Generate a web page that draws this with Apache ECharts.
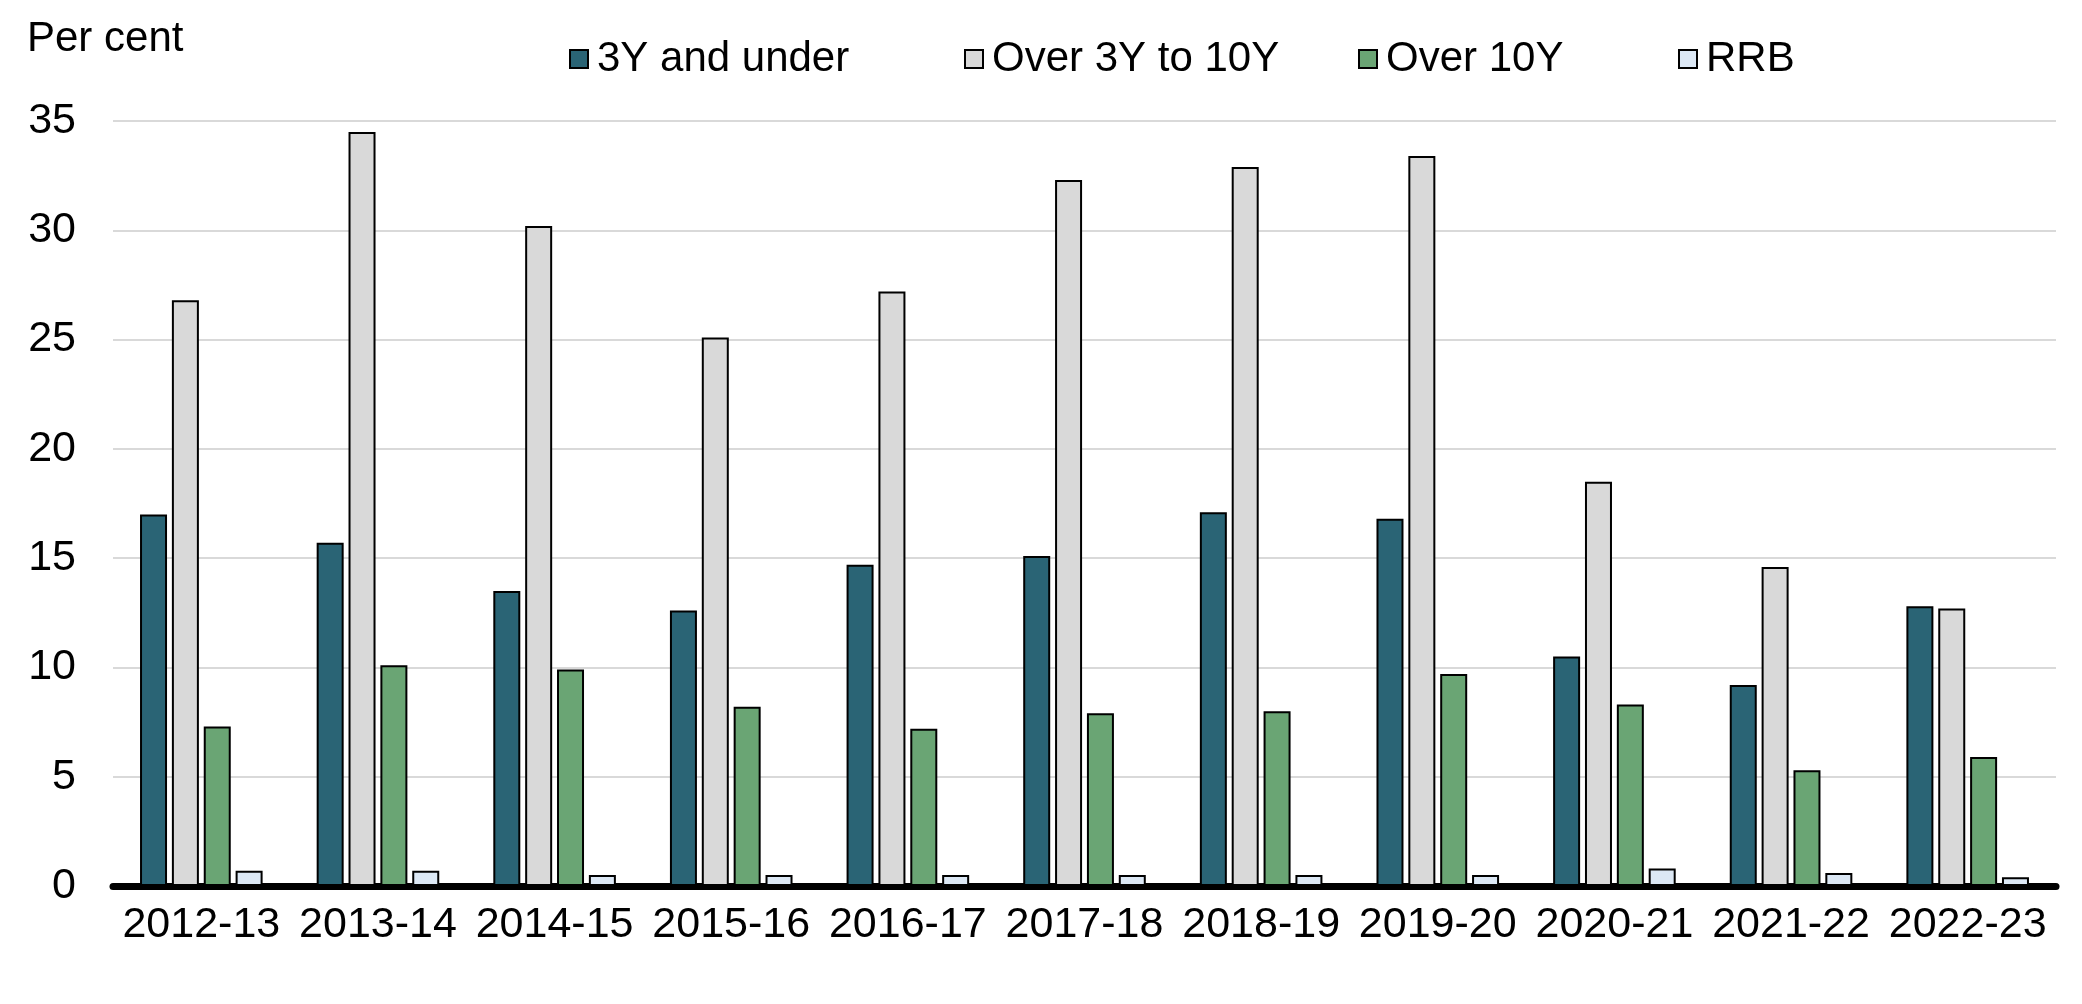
<!DOCTYPE html>
<html><head><meta charset="utf-8">
<script src="https://cdn.jsdelivr.net/npm/echarts@6/dist/echarts.min.js"></script>
<style>html,body{margin:0;padding:0;background:#fff}#c{width:2082px;height:1004px}</style>
</head><body><div id="c"></div>
<script>
const categories = ['2012-13','2013-14','2014-15','2015-16','2016-17','2017-18','2018-19','2019-20','2020-21','2021-22','2022-23'];
const seriesNames = ['3Y and under','Over 3Y to 10Y','Over 10Y','RRB'];
const under3Y = [17.0,15.7,13.5,12.6,14.7,15.1,17.1,16.8,10.5,9.2,12.8];
const over3To10Y = [26.8,34.5,30.2,25.1,27.2,32.3,32.9,33.4,18.5,14.6,12.7];
const over10Y = [7.3,10.1,9.9,8.2,7.2,7.9,8.0,9.7,8.3,5.3,5.9];
const rrb = [0.7,0.7,0.5,0.5,0.5,0.5,0.5,0.5,0.8,0.6,0.4];
const yTicks = [0,5,10,15,20,25,30,35];

const colors = ['#2a6475','#d9d9d9','#6aa574','#dce8f5'];
const dataArr = [under3Y, over3To10Y, over10Y, rrb];
const font = 'Liberation Sans, Arial, sans-serif';
const legendLefts = [564, 959, 1353, 1673];

const chart = echarts.init(document.getElementById('c'));
chart.setOption({
  animation: false,
  backgroundColor: '#fff',
  textStyle: {fontFamily: font},
  graphic: [{type:'text', left: 27, top: 18, style:{text:'Per cent', font:'42px '+font, fill:'#000'}}],
  legend: seriesNames.map((n,i)=>({
    data:[n], left: legendLefts[i], top: 33, icon:'rect', itemWidth: 18, itemHeight: 18, itemGap: 0,
    textStyle:{fontSize:42, fontFamily:font, color:'#000', padding:[0,0,0,4]},
    itemStyle:{borderColor:'#000', borderWidth:2}
  })),
  grid: {left: 113, right: 26, top: 121, bottom: 118, containLabel: false},
  xAxis: {
    type:'category', data: categories,
    axisTick:{show:false},
    axisLine:{lineStyle:{color:'#000', width:7}},
    axisLabel:{fontSize:43, fontFamily:font, color:'#000', margin:18, interval:0}
  },
  yAxis: {
    type:'value', min:0, max:35, interval:5,
    axisLine:{show:false}, axisTick:{show:false},
    splitLine:{lineStyle:{color:'#d9d9d9', width:2}},
    axisLabel:{fontSize:43, fontFamily:font, color:'#000', margin:37,
      formatter:v=> yTicks.includes(v)? String(v):''}
  },
  series: seriesNames.map((n,i)=>({
    name:n, type:'bar', data: dataArr[i], barWidth:27, barGap:'18%',
    itemStyle:{color:colors[i], borderColor:'#000', borderWidth:2}
  }))
});
</script></body></html>
